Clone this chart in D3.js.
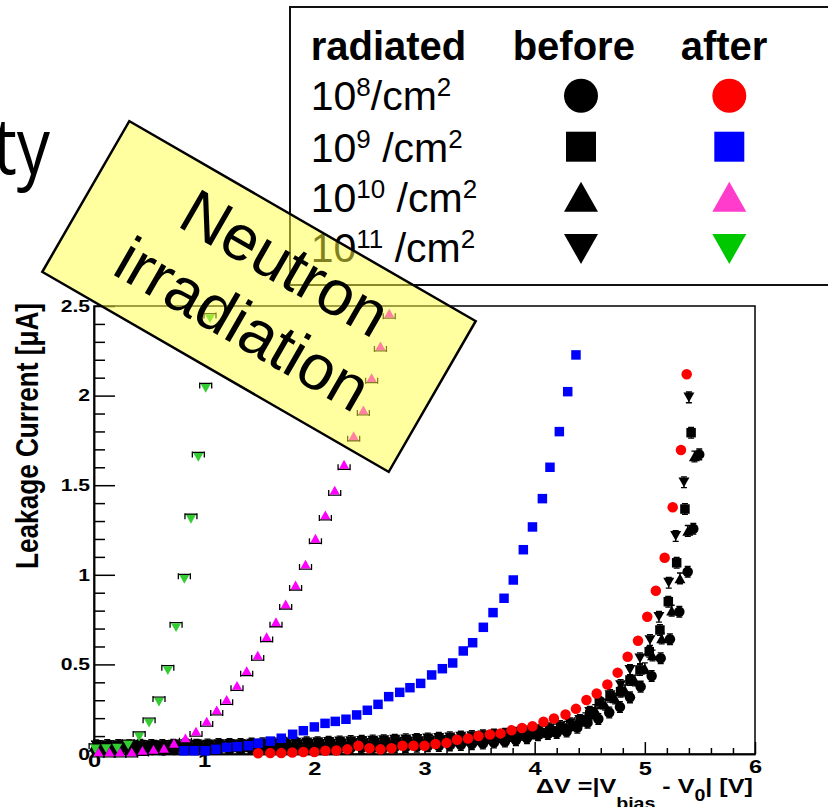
<!DOCTYPE html>
<html><head><meta charset="utf-8">
<script src="https://cdn.jsdelivr.net/npm/d3@7"></script>
<style>body{margin:0;background:#fff;} svg{display:block;}</style>
</head><body>
<svg id="c" width="828" height="807"></svg>
<script>
// ---------------- DATA ----------------
const xTickValues = [0, 1, 2, 3, 4, 5, 6];
const xTickLabels = ["0", "1", "2", "3", "4", "5", "6"];
const yTickValues = [0, 0.5, 1, 1.5, 2, 2.5];
const yTickLabels = ["0", "0.5", "1", "1.5", "2", "2.5"];
const xTitleParts = ["ΔV =|V", "bias", " - V", "0", "| [V]"];
const yTitle = "Leakage Current [μA]";
const legendHeader = ["radiated", "before", "after"];
const legendFluence = ["8", "9", "10", "11"];
const boxLines = ["Neutron", "irradiation"];

// 10^8 /cm2 before (black circles)
const before1e8 = [[0.03,0.02],[0.13,0.02],[0.23,0.018],[0.33,0.02],[0.43,0.02],[0.53,0.022],[0.63,0.02],[0.73,0.022],[0.83,0.022],[0.93,0.024],[1.03,0.022],[1.13,0.024],[1.23,0.025],[1.33,0.024],[1.43,0.026],[1.53,0.026],[1.63,0.027],[1.73,0.028],[1.83,0.028],[1.93,0.03],[2.03,0.03],[2.13,0.031],[2.23,0.032],[2.33,0.033],[2.43,0.034],[2.53,0.035],[2.63,0.036],[2.73,0.038],[2.83,0.039],[2.93,0.041],[3.03,0.043],[3.13,0.045],[3.23,0.048],[3.33,0.051],[3.43,0.055],[3.53,0.059],[3.63,0.064],[3.73,0.07],[3.83,0.077],[3.93,0.088],[4.03,0.105],[4.12,0.112],[4.2,0.117],[4.29,0.126],[4.387,0.147],[4.48,0.175],[4.578,0.195],[4.677,0.232],[4.774,0.262],[4.865,0.316],[4.962,0.376],[5.062,0.435],[5.144,0.534],[5.228,0.64],[5.313,0.794],[5.389,1.017],[5.44,1.257],[5.494,1.672]];
// 10^9 before (black squares)
const before1e9 = [[0.05,0.045],[0.15,0.045],[0.25,0.043],[0.35,0.045],[0.45,0.044],[0.55,0.046],[0.65,0.045],[0.75,0.047],[0.85,0.046],[0.95,0.048],[1.05,0.047],[1.15,0.048],[1.25,0.05],[1.35,0.049],[1.45,0.05],[1.55,0.052],[1.65,0.051],[1.75,0.053],[1.85,0.054],[1.95,0.055],[2.05,0.056],[2.15,0.057],[2.25,0.058],[2.35,0.06],[2.45,0.061],[2.55,0.062],[2.65,0.064],[2.75,0.066],[2.85,0.068],[2.95,0.07],[3.05,0.072],[3.15,0.075],[3.25,0.078],[3.35,0.081],[3.45,0.085],[3.55,0.089],[3.65,0.094],[3.75,0.1],[3.85,0.106],[3.95,0.113],[4.05,0.12],[4.15,0.13],[4.25,0.145],[4.35,0.16],[4.42,0.185],[4.5,0.22],[4.587,0.29],[4.684,0.32],[4.78,0.348],[4.865,0.413],[4.956,0.469],[5.04,0.571],[5.137,0.692],[5.213,0.85],[5.289,1.067],[5.364,1.367],[5.42,1.793]];
// 10^10 before (black up triangles)
const before1e10 = [[0.0,0.04],[0.1,0.038],[0.2,0.04],[0.3,0.04],[0.4,0.038],[0.5,0.04],[0.6,0.04],[0.7,0.041],[0.8,0.04],[0.9,0.042],[1.0,0.041],[1.1,0.043],[1.2,0.042],[1.3,0.044],[1.4,0.044],[1.5,0.045],[1.6,0.046],[1.7,0.046],[1.8,0.047],[1.9,0.048],[2.0,0.05],[2.1,0.05],[2.2,0.052],[2.3,0.053],[2.4,0.055],[2.5,0.056],[2.6,0.058],[2.7,0.06],[2.8,0.062],[2.9,0.064],[3.0,0.066],[3.1,0.069],[3.2,0.072],[3.3,0.075],[3.4,0.079],[3.5,0.083],[3.6,0.088],[3.7,0.094],[3.8,0.1],[3.9,0.107],[4.0,0.115],[4.1,0.125],[4.2,0.137],[4.29,0.152],[4.38,0.172],[4.46,0.2],[4.55,0.245],[4.64,0.275],[4.73,0.31],[4.82,0.355],[4.91,0.41],[5.0,0.478],[5.07,0.55],[5.153,0.645],[5.244,0.8],[5.319,0.98],[5.39,1.245],[5.45,1.66]];
// 10^11 before (black down triangles)
const before1e11 = [[0.02,0.048],[0.12,0.05],[0.22,0.05],[0.32,0.048],[0.42,0.052],[0.52,0.05],[0.62,0.05],[0.72,0.052],[0.83,0.055],[0.93,0.052],[1.03,0.053],[1.13,0.055],[1.23,0.056],[1.33,0.055],[1.43,0.058],[1.53,0.06],[1.63,0.06],[1.73,0.062],[1.83,0.063],[1.93,0.065],[2.03,0.066],[2.13,0.068],[2.23,0.07],[2.33,0.072],[2.43,0.074],[2.53,0.075],[2.63,0.077],[2.73,0.08],[2.83,0.082],[2.93,0.084],[3.03,0.087],[3.13,0.09],[3.23,0.093],[3.33,0.097],[3.43,0.1],[3.53,0.104],[3.63,0.108],[3.73,0.113],[3.83,0.118],[3.93,0.125],[4.03,0.133],[4.13,0.143],[4.23,0.156],[4.32,0.172],[4.41,0.19],[4.5,0.235],[4.593,0.283],[4.684,0.329],[4.78,0.385],[4.865,0.469],[4.956,0.534],[5.047,0.636],[5.128,0.766],[5.217,0.956],[5.28,1.217],[5.355,1.516],[5.4,1.99]];
// 10^8 after (red circles)
const after1e8 = [[1.49,0.004],[1.6,0.005],[1.7,0.005],[1.8,0.008],[1.9,0.011],[2.0,0.011],[2.1,0.018],[2.2,0.02],[2.3,0.026],[2.4,0.046],[2.5,0.032],[2.6,0.026],[2.7,0.032],[2.8,0.046],[2.9,0.046],[3.0,0.046],[3.1,0.056],[3.2,0.062],[3.295,0.08],[3.395,0.086],[3.49,0.1],[3.594,0.109],[3.69,0.115],[3.79,0.132],[3.885,0.145],[3.98,0.155],[4.08,0.18],[4.175,0.198],[4.28,0.22],[4.375,0.252],[4.47,0.301],[4.563,0.338],[4.66,0.388],[4.753,0.454],[4.844,0.543],[4.938,0.632],[5.022,0.766],[5.1,0.911],[5.18,1.095],[5.253,1.377],[5.328,1.696],[5.38,2.119]];
// 10^9 after (blue squares)
const after1e9 = [[0.817,0.018],[0.91,0.018],[1.008,0.018],[1.107,0.026],[1.205,0.037],[1.3,0.041],[1.4,0.046],[1.49,0.06],[1.6,0.072],[1.7,0.088],[1.803,0.11],[1.9,0.13],[2.0,0.151],[2.097,0.171],[2.19,0.182],[2.287,0.194],[2.384,0.218],[2.481,0.244],[2.578,0.277],[2.675,0.32],[2.775,0.344],[2.868,0.37],[2.965,0.394],[3.065,0.441],[3.162,0.476],[3.256,0.508],[3.352,0.575],[3.437,0.621],[3.534,0.707],[3.622,0.789],[3.722,0.869],[3.806,0.971],[3.897,1.14],[3.98,1.267],[4.07,1.425],[4.139,1.6],[4.224,1.799],[4.3,2.022],[4.375,2.227]];
// 10^10 after (magenta triangles)
const after1e10 = [[0.04,0.012],[0.14,0.012],[0.236,0.012],[0.342,0.012],[0.44,0.02],[0.54,0.026],[0.635,0.032],[0.726,0.06],[0.83,0.09],[0.926,0.128],[1.023,0.184],[1.114,0.246],[1.204,0.305],[1.298,0.383],[1.386,0.465],[1.486,0.552],[1.567,0.655],[1.652,0.738],[1.74,0.837],[1.83,0.943],[1.92,1.06],[2.01,1.204],[2.1,1.334],[2.185,1.473],[2.27,1.617],[2.357,1.776],[2.445,1.92],[2.52,2.1],[2.6,2.277],[2.68,2.46]];
// 10^11 after (green down triangles)
const after1e11 = [[0.01,0.028],[0.11,0.03],[0.21,0.032],[0.31,0.05],[0.41,0.095],[0.5,0.172],[0.59,0.29],[0.67,0.465],[0.745,0.705],[0.82,0.975],[0.88,1.31],[0.947,1.655],[1.014,2.04],[1.053,2.43]];

// ---------------- DRAWING ----------------
const svg = d3.select("#c");
const FONT = "'Liberation Sans', Arial, Helvetica, sans-serif";
const PL = 94, PR = 755, PT = 306, PB = 754;
const x = d3.scaleLinear().domain([0, 6]).range([PL, PR]);
const y = d3.scaleLinear().domain([0, 2.5]).range([PB, PT]);

function shape(type, s) {
  const h = s / 2, th = s * 0.44;
  if (type === "circle") return d3.symbol(d3.symbolCircle, Math.PI * h * h)();
  if (type === "square") return `M${-h},${-h}h${s}v${s}h${-s}Z`;
  if (type === "up") return `M0,${-th}L${h},${th}L${-h},${th}Z`;
  return `M0,${th}L${h},${-th}L${-h},${-th}Z`;
}

// "ty" slide-title fragment
svg.append("text").attr("x", 50).attr("y", 174).attr("text-anchor", "end")
  .attr("font-family", "'Open Sans', sans-serif").attr("font-size", 78)
  .attr("transform", "translate(50,0) scale(0.85,1) translate(-50,0)")
  .text("ty");

// frame
svg.append("rect").attr("x", PL).attr("y", PT).attr("width", PR - PL).attr("height", PB - PT)
  .attr("fill", "none").attr("stroke", "#000").attr("stroke-width", 1.5);

// axes
const xMinor = d3.range(0, 6.001, 0.2).filter(v => Math.abs(v - Math.round(v)) > 1e-6);
const yMinor = d3.range(0, 2.501, 0.1).filter(v => Math.abs(v * 2 - Math.round(v * 2)) > 1e-6);
const gx = svg.append("g").attr("transform", `translate(0,${PB})`);
gx.append("g").call(d3.axisBottom(x).tickValues(xMinor).tickSize(-6).tickSizeOuter(0).tickFormat(""));
gx.append("g").call(d3.axisBottom(x).tickValues(xTickValues).tickSize(-12).tickSizeOuter(0)
  .tickFormat((d, i) => xTickLabels[i]));
const gy = svg.append("g").attr("transform", `translate(${PL},0)`);
gy.append("g").call(d3.axisLeft(y).tickValues(yMinor).tickSize(-11).tickSizeOuter(0).tickFormat(""));
gy.append("g").call(d3.axisLeft(y).tickValues(yTickValues).tickSize(-21).tickSizeOuter(0).tickPadding(4)
  .tickFormat((d, i) => yTickLabels[i]));
svg.selectAll(".domain").attr("stroke", "#000").attr("stroke-width", 1.5);
svg.selectAll(".tick line").attr("stroke", "#000").attr("stroke-width", 1.5);
gx.selectAll("text").attr("font-family", FONT).attr("font-weight", "bold").attr("font-size", 17.5)
  .attr("fill", "#000").attr("dy", null)
  .attr("y", d => d <= 1 ? 13 : (d === 6 ? 19 : 21))
  .attr("transform", "scale(1.35,1)");
gy.selectAll("text").attr("font-family", FONT).attr("font-weight", "bold").attr("font-size", 16.5)
  .attr("fill", "#000").attr("x", 0).attr("transform", "translate(-4,0) scale(1.28,1)");

// axis titles
const xt = svg.append("text").attr("font-family", FONT).attr("font-weight", "bold").attr("font-size", 20.5);
xt.append("tspan").text(xTitleParts[0]);
xt.append("tspan").attr("font-size", 16).attr("dy", 16).text(xTitleParts[1]);
xt.append("tspan").attr("dy", -16).text(xTitleParts[2]);
xt.append("tspan").attr("font-size", 16).attr("dy", 8).text(xTitleParts[3]);
xt.append("tspan").attr("dy", -8).text(xTitleParts[4]);
const xw = xt.node().getBBox().width;
xt.attr("transform", `translate(536,793) scale(${217 / xw},1)`);

svg.append("text").attr("font-family", FONT).attr("font-weight", "bold").attr("font-size", 26)
  .attr("text-anchor", "middle").attr("textLength", 266).attr("lengthAdjust", "spacingAndGlyphs")
  .attr("transform", "translate(38,436) scale(1.2,1) rotate(-90)").text(yTitle);

// data
const plot = svg.append("g");
function errBars(data, e) {
  plot.append("g").selectAll("path").data(data).join("path")
    .attr("d", d => {
      const cx = x(d[0]), y1 = y(Math.max(0, d[1] - e)), y2 = y(d[1] + e);
      return `M${cx},${y1}V${y2}M${cx - 3},${y1}h6M${cx - 3},${y2}h6`;
    })
    .attr("stroke", "#000").attr("stroke-width", 1.3).attr("fill", "none");
}
function markers(data, type, size, color) {
  plot.append("g").selectAll("path").data(data).join("path")
    .attr("d", shape(type, size))
    .attr("transform", d => `translate(${x(d[0])},${y(d[1])})`)
    .attr("fill", color);
}
function crowns(data, dir) {
  plot.append("g").selectAll("path").data(data).join("path")
    .attr("d", d => {
      const cx = x(d[0]), cy = y(d[1]) + dir * 3;
      return `M${cx - 6},${cy - 3}v6M${cx + 6},${cy - 3}v6M${cx - 6},${cy + dir * 2}H${cx + 6}`;
    })
    .attr("stroke", "#000").attr("stroke-width", 1.3).attr("fill", "none");
}
errBars(before1e8, 0.03); errBars(before1e9, 0.03); errBars(before1e10, 0.03); errBars(before1e11, 0.03);
markers(before1e8, "circle", 10.5, "#000");
markers(before1e9, "square", 9.5, "#000");
markers(before1e10, "up", 11, "#000");
markers(before1e11, "down", 11, "#000");
crowns(after1e10, 1);
crowns(after1e11, -1);
markers(after1e10, "up", 10, "#ff00ff");
markers(after1e11, "down", 10, "#33cc33");
markers(after1e9, "square", 9.5, "#0000ff");
markers(after1e8, "circle", 10.5, "#ff0000");

// legend
const lg = svg.append("g");
lg.append("rect").attr("x", 290).attr("y", 7).attr("width", 600).attr("height", 278)
  .attr("fill", "#fff").attr("stroke", "#111").attr("stroke-width", 2);
const hdrX = [310.7, 512.7, 680.7];
legendHeader.forEach((t, i) => lg.append("text").attr("x", hdrX[i]).attr("y", 60)
  .attr("font-family", FONT).attr("font-weight", "bold").attr("font-size", 40).text(t));
const rowBase = [110, 161.7, 212.3, 262.3];
const rowMid = [95.7, 146.7, 196.7, 249];
const shapes = ["circle", "square", "up", "down"];
const afterCols = ["#ff0000", "#0000ff", "#ff3ccc", "#00c800"];
legendFluence.forEach((f, i) => {
  const t = lg.append("text").attr("x", 310.7).attr("y", rowBase[i])
    .attr("font-family", FONT).attr("font-size", 41);
  t.append("tspan").text("10");
  t.append("tspan").attr("font-size", 26).attr("dy", -14).text(f);
  t.append("tspan").attr("dy", 14).text(i === 0 ? "/cm" : " /cm");
  t.append("tspan").attr("font-size", 26).attr("dy", -14).text("2");
  lg.append("path").attr("d", shape(shapes[i], shapes[i] === "square" ? 30 : 34))
    .attr("transform", `translate(581,${rowMid[i]})`).attr("fill", "#000");
  lg.append("path").attr("d", shape(shapes[i], shapes[i] === "square" ? 30 : 34))
    .attr("transform", `translate(729.3,${rowMid[i]})`).attr("fill", afterCols[i]);
});

// yellow "Neutron irradiation" box
const yb = svg.append("g").attr("transform", "translate(259,296.5) rotate(30)");
yb.append("rect").attr("x", -200).attr("y", -87).attr("width", 400).attr("height", 174)
  .attr("fill", "#ffff40").attr("fill-opacity", 0.5)
  .attr("stroke", "#000").attr("stroke-width", 2.5);
yb.append("text").attr("x", 6).attr("y", -20).attr("text-anchor", "middle")
  .attr("font-family", FONT).attr("font-size", 64).text(boxLines[0]);
yb.append("text").attr("x", 0).attr("y", 54).attr("text-anchor", "middle")
  .attr("font-family", FONT).attr("font-size", 64).text(boxLines[1]);
</script>
</body></html>
